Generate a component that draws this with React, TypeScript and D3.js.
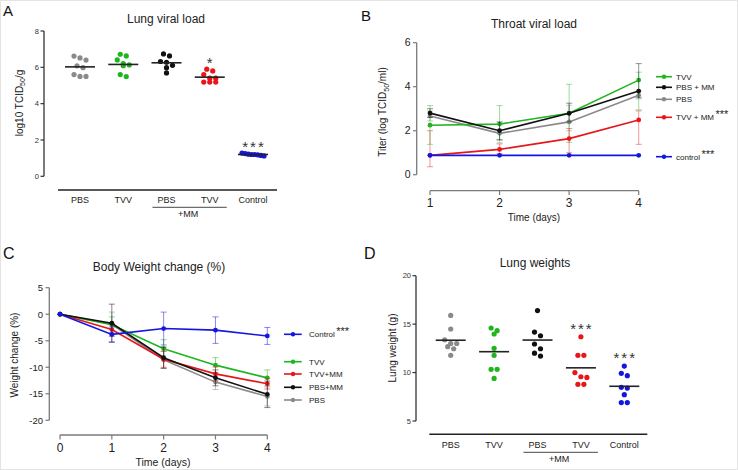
import React from "react";
import * as d3 from "d3";

// ---------- DATA ----------
const groupLabels = ["PBS", "TVV", "PBS", "TVV", "Control"];
const groupColors = ["#8a8a8a", "#1fb51f", "#111111", "#e8161b", "#1515e0"];

// Panel A: lung viral load (log10 TCID50/g)
const lungViral_PBS = [6.62, 6.52, 6.4, 6.08, 5.98, 5.6, 5.5, 5.5];
const lungViral_TVV = [6.72, 6.63, 6.41, 6.2, 6.13, 6.09, 5.6, 5.49];
const lungViral_PBSMM = [6.74, 6.63, 6.32, 6.28, 6.11, 5.98, 5.69];
const lungViral_TVVMM = [5.9, 5.8, 5.6, 5.4, 5.4, 5.19, 5.19, 5.19];
const lungViral_Control = [1.28, 1.25, 1.22, 1.2, 1.18, 1.15, 1.12, 1.2];
const lungViralSig = ["", "", "", "*", "***"];
const lungViralTicks = [0, 2, 4, 6, 8];

// Panel B: throat viral load
const throatDays = [1, 2, 3, 4];
const throatNames = ["TVV", "PBS + MM", "PBS", "TVV + MM", "control"];
const throatSig = ["", "", "", "***", "***"];
const throatColors = ["#1fb51f", "#111111", "#8a8a8a", "#e8161b", "#1515e0"];
const throat_TVV = [2.25, 2.3, 2.79, 4.3];
const throat_TVV_lo = [1.38, 1.55, 1.47, 2.95];
const throat_TVV_hi = [3.14, 3.14, 4.11, 4.66];
const throat_PBSMM = [2.8, 2.0, 2.79, 3.8];
const throat_PBSMM_lo = [2.6, 1.6, 2.4, 3.5];
const throat_PBSMM_hi = [3.0, 2.4, 3.25, 5.05];
const throat_PBS = [2.67, 1.88, 2.4, 3.61];
const throat_PBS_lo = [2.45, 1.45, 2.0, 3.45];
const throat_PBS_hi = [2.9, 2.3, 3.15, 3.8];
const throat_TVVMM = [0.88, 1.15, 1.64, 2.49];
const throat_TVVMM_lo = [0.36, 0.95, 1.0, 1.38];
const throat_TVVMM_hi = [2.0, 1.4, 2.1, 2.9];
const throat_control = [0.88, 0.88, 0.88, 0.88];
const throatYTicks = [0, 2, 4, 6];

// Panel C: body weight change
const weightDays = [0, 1, 2, 3, 4];
const weightNames = ["Control", "TVV", "TVV+MM", "PBS+MM", "PBS"];
const weightSig = ["***", "", "", "", ""];
const weightColors = ["#1515e0", "#1fb51f", "#e8161b", "#111111", "#8a8a8a"];
const weight_Control = [0, -3.8, -2.7, -3.0, -4.1];
const weight_Control_sd = [0, 1.4, 3.1, 2.5, 1.6];
const weight_TVV = [0, -2.0, -6.5, -9.6, -12.0];
const weight_TVV_sd = [0, 1.5, 1.7, 1.4, 1.5];
const weight_TVVMM = [0, -2.9, -8.5, -11.25, -13.1];
const weight_TVVMM_sd = [0, 1.2, 1.5, 1.3, 1.0];
const weight_PBSMM = [0, -1.7, -8.2, -12.0, -15.1];
const weight_PBSMM_sd = [0, 3.6, 2.0, 1.5, 2.5];
const weight_PBS = [0, -1.9, -8.6, -12.8, -15.5];
const weight_PBS_sd = [0, 2.3, 1.6, 1.4, 1.8];
const weightYTicks = [-20, -15, -10, -5, 0, 5];

// Panel D: lung weights (g)
const lungW_PBS = [15.9, 14.5, 13.39, 13.0, 13.0, 12.67, 12.46, 11.78];
const lungW_TVV = [14.6, 14.32, 13.98, 12.5, 11.78, 10.33, 10.33, 9.4];
const lungW_PBSMM = [16.4, 14.18, 13.8, 12.95, 12.46, 12.0, 11.7];
const lungW_TVVMM = [13.7, 11.78, 11.78, 10.0, 9.57, 9.5, 8.79, 8.79];
const lungW_Control = [10.67, 9.92, 9.68, 8.48, 8.4, 7.72, 6.9, 6.9];
const lungWSig = ["", "", "", "***", "***"];
const lungWTicks = [5, 10, 15, 20];

// ---------- LAYOUT ----------
const FONT = "'Liberation Sans', Arial, Helvetica, sans-serif";
const throatLegendY = [76.7, 87.3, 99.3, 117.3, 156.7];
const weightLegendY = [334.3, 361.7, 374, 387.3, 400];

function swarm(vals: number[], y: (v: number) => number, r = 2.6, d = 6, maxW = 22) {
  const idx = vals.map((_, i) => i).sort((a, b) => vals[b] - vals[a]);
  const rows: { y0: number; items: number[] }[] = [];
  let cur: { y0: number; items: number[] } | null = null;
  for (const i of idx) {
    const py = y(vals[i]);
    if (cur && Math.abs(py - cur.y0) < 2 * r) cur.items.push(i);
    else {
      cur = { y0: py, items: [i] };
      rows.push(cur);
    }
  }
  const off = new Array(vals.length).fill(0);
  rows.forEach((row) => {
    const n = row.items.length;
    const dd = n > 1 ? Math.min(d, maxW / (n - 1)) : 0;
    row.items.forEach((i, k) => (off[i] = (k - (n - 1) / 2) * dd));
  });
  return off;
}

function ScatterPanel(props: {
  groups: number[][];
  sig: string[];
  ticks: number[];
  y: d3.ScaleLinear<number, number>;
  x: d3.ScalePoint<string>;
  axisX: number;
  axisColor: string;
  baseY: number;
  baseX0: number;
  baseX1: number;
  labelY: number;
  mmLineY: number;
  mmTextY: number;
  sigOffset: number;
}) {
  const { groups, sig, ticks, y, x, axisX, axisColor } = props;
  const [y0, y1] = y.range();
  return (
    <g>
      <line x1={axisX} x2={axisX} y1={y1} y2={y0} stroke={axisColor} strokeWidth={1.3} />
      {ticks.map((t) => (
        <g key={t}>
          <line x1={axisX - 3.5} x2={axisX} y1={y(t)} y2={y(t)} stroke={axisColor} strokeWidth={1.2} />
          <text x={axisX - 5} y={y(t) + 2.7} fontSize={7.5} textAnchor="end" fill="#333" fontFamily={FONT}>
            {t}
          </text>
        </g>
      ))}
      <line x1={props.baseX0} x2={props.baseX1} y1={props.baseY} y2={props.baseY} stroke="#222" strokeWidth={1.6} />
      {groupLabels.map((g, i) => (
        <text key={i} x={x(String(i))!} y={props.labelY} fontSize={9} textAnchor="middle" fill="#222" fontFamily={FONT}>
          {g}
        </text>
      ))}
      <line
        x1={x("2")! - 14}
        x2={x("3")! + 17}
        y1={props.mmLineY}
        y2={props.mmLineY}
        stroke="#333"
        strokeWidth={0.9}
      />
      <text
        x={(x("2")! + x("3")!) / 2}
        y={props.mmTextY}
        fontSize={9}
        textAnchor="middle"
        fill="#222"
        fontFamily={FONT}
      >
        +MM
      </text>
      {groups.map((vals, gi) => {
        const cx = x(String(gi))!;
        const off = swarm(vals, y);
        const m = d3.mean(vals)!;
        const top = y(d3.max(vals)!);
        return (
          <g key={gi}>
            {vals.map((v, k) => (
              <circle key={k} cx={cx + off[k]} cy={y(v)} r={2.6} fill={groupColors[gi]} />
            ))}
            <line x1={cx - 15} x2={cx + 15} y1={y(m)} y2={y(m)} stroke="#222" strokeWidth={1.6} />
            {sig[gi] && (
              <text
                x={cx + (sig[gi].length > 1 ? 1 : 0)}
                y={top - props.sigOffset}
                fontSize={15}
                textAnchor="middle"
                fill="#333"
                letterSpacing={sig[gi].length > 1 ? 2 : 0}
                fontFamily={FONT}
              >
                {sig[gi]}
              </text>
            )}
          </g>
        );
      })}
    </g>
  );
}

export default function App() {
  // ---- Panel A ----
  const yA = d3.scaleLinear().domain([0, 8]).range([176.3, 31]);
  const xA = d3.scalePoint<string>().domain(["0", "1", "2", "3", "4"]).range([80, 253]);
  const groupsA = [lungViral_PBS, lungViral_TVV, lungViral_PBSMM, lungViral_TVVMM, lungViral_Control];

  // ---- Panel D ----
  const yD = d3.scaleLinear().domain([5, 20]).range([421, 275.7]);
  const xD = d3.scalePoint<string>().domain(["0", "1", "2", "3", "4"]).range([450.7, 624.3]);
  const groupsD = [lungW_PBS, lungW_TVV, lungW_PBSMM, lungW_TVVMM, lungW_Control];

  // ---- Panel B ----
  const xB = d3.scaleLinear().domain([1, 4]).range([430, 638.7]);
  const yB = d3.scaleLinear().domain([0, 6]).range([174.7, 42.7]);
  const throatSeries = [
    { v: throat_TVV, lo: throat_TVV_lo, hi: throat_TVV_hi },
    { v: throat_PBSMM, lo: throat_PBSMM_lo, hi: throat_PBSMM_hi },
    { v: throat_PBS, lo: throat_PBS_lo, hi: throat_PBS_hi },
    { v: throat_TVVMM, lo: throat_TVVMM_lo, hi: throat_TVVMM_hi },
    { v: throat_control, lo: throat_control, hi: throat_control },
  ];
  const throatDrawOrder = [2, 0, 1, 3, 4];
  const lineB = d3
    .line<number>()
    .x((_, i) => xB(throatDays[i]))
    .y((d) => yB(d));

  // ---- Panel C ----
  const xC = d3.scaleLinear().domain([0, 4]).range([60, 267.3]);
  const yC = d3.scaleLinear().domain([-20, 5]).range([420.3, 287.7]);
  const weightSeries = [
    { v: weight_Control, sd: weight_Control_sd },
    { v: weight_TVV, sd: weight_TVV_sd },
    { v: weight_TVVMM, sd: weight_TVVMM_sd },
    { v: weight_PBSMM, sd: weight_PBSMM_sd },
    { v: weight_PBS, sd: weight_PBS_sd },
  ];
  const weightDrawOrder = [4, 1, 2, 3, 0];
  const lineC = d3
    .line<number>()
    .x((_, i) => xC(weightDays[i]))
    .y((d) => yC(d));

  const grayAxis = "#7a7a7a";

  return (
    <svg
      width={738}
      height={470}
      style={{ position: "absolute", left: 0, top: 0, background: "#fff" }}
      fontFamily={FONT}
    >
      <rect x={0.5} y={0.5} width={737} height={469} fill="#fff" stroke="#e4e4e4" />

      {/* Panel letters */}
      <text x={3} y={16} fontSize={15} fill="#111">A</text>
      <text x={361} y={21} fontSize={15} fill="#111">B</text>
      <text x={3} y={259} fontSize={16} fill="#111">C</text>
      <text x={364} y={259} fontSize={16} fill="#111">D</text>

      {/* ===== Panel A ===== */}
      <text x={166} y={23.3} fontSize={12} textAnchor="middle" fill="#222">
        Lung viral load
      </text>
      <text transform="translate(22.5,103) rotate(-90)" fontSize={10} textAnchor="middle" fill="#222">
        log10 TCID
        <tspan fontSize={7} dy={2.5}>50</tspan>
        <tspan dy={-2.5}>/g</tspan>
      </text>
      <ScatterPanel
        groups={groupsA}
        sig={lungViralSig}
        ticks={lungViralTicks}
        y={yA}
        x={xA}
        axisX={44}
        axisColor="#333"
        baseY={190}
        baseX0={58}
        baseX1={277}
        labelY={203.3}
        mmLineY={207.3}
        mmTextY={216.5}
        sigOffset={1}
      />

      {/* ===== Panel D ===== */}
      <text x={535} y={266.7} fontSize={12} textAnchor="middle" fill="#222">
        Lung weights
      </text>
      <text transform="translate(396,348) rotate(-90)" fontSize={10} textAnchor="middle" fill="#222">
        Lung weight (g)
      </text>
      <ScatterPanel
        groups={groupsD}
        sig={lungWSig}
        ticks={lungWTicks}
        y={yD}
        x={xD}
        axisX={416}
        axisColor="#333"
        baseY={434.3}
        baseX0={429.3}
        baseX1={647.3}
        labelY={447.7}
        mmLineY={452.3}
        mmTextY={461.5}
        sigOffset={3}
      />

      {/* ===== Panel B ===== */}
      <text x={534} y={28.3} fontSize={12} textAnchor="middle" fill="#222">
        Throat viral load
      </text>
      <text transform="translate(386,112) rotate(-90)" fontSize={10} textAnchor="middle" fill="#222">
        Titer (log TCID
        <tspan fontSize={7} dy={2.5}>50</tspan>
        <tspan dy={-2.5}>/ml)</tspan>
      </text>
      <line x1={416.7} x2={416.7} y1={yB(6)} y2={yB(0)} stroke={grayAxis} strokeWidth={1.3} />
      {throatYTicks.map((t) => (
        <g key={t}>
          <line x1={413} x2={416.7} y1={yB(t)} y2={yB(t)} stroke={grayAxis} strokeWidth={1.2} />
          <text x={410.5} y={yB(t) + 3.6} fontSize={10.5} textAnchor="end" fill="#222">
            {t}
          </text>
        </g>
      ))}
      <line x1={xB(1)} x2={xB(4)} y1={190.7} y2={190.7} stroke={grayAxis} strokeWidth={1.3} />
      {throatDays.map((t) => (
        <g key={t}>
          <line x1={xB(t)} x2={xB(t)} y1={190.7} y2={195} stroke={grayAxis} strokeWidth={1.2} />
          <text x={xB(t)} y={206.7} fontSize={12} textAnchor="middle" fill="#222">
            {t}
          </text>
        </g>
      ))}
      <text x={534} y={220.5} fontSize={10} textAnchor="middle" fill="#222">
        Time (days)
      </text>
      {throatDrawOrder.map((si) => {
        const s = throatSeries[si];
        const c = throatColors[si];
        return (
          <g key={si}>
            {s.v.map((_, i) =>
              s.hi[i] !== s.lo[i] ? (
                <g key={i} stroke={c} strokeOpacity={0.45} strokeWidth={1}>
                  <line x1={xB(throatDays[i])} x2={xB(throatDays[i])} y1={yB(s.lo[i])} y2={yB(s.hi[i])} />
                  <line x1={xB(throatDays[i]) - 3} x2={xB(throatDays[i]) + 3} y1={yB(s.lo[i])} y2={yB(s.lo[i])} />
                  <line x1={xB(throatDays[i]) - 3} x2={xB(throatDays[i]) + 3} y1={yB(s.hi[i])} y2={yB(s.hi[i])} />
                </g>
              ) : null
            )}
            <path d={lineB(s.v)!} fill="none" stroke={c} strokeWidth={1.6} />
            {s.v.map((v, i) => (
              <circle key={i} cx={xB(throatDays[i])} cy={yB(v)} r={2.4} fill={c} />
            ))}
          </g>
        );
      })}
      {throatNames.map((n, i) => (
        <g key={n}>
          <line x1={656} x2={672} y1={throatLegendY[i]} y2={throatLegendY[i]} stroke={throatColors[i]} strokeWidth={1.6} />
          <circle cx={664} cy={throatLegendY[i]} r={2.2} fill={throatColors[i]} />
          <text x={676} y={throatLegendY[i] + 2.8} fontSize={8} fill="#222">
            {n}
            {throatSig[i] && (
              <tspan dx={1.5} dy={-2} fontSize={11}>
                {throatSig[i]}
              </tspan>
            )}
          </text>
        </g>
      ))}

      {/* ===== Panel C ===== */}
      <text x={159} y={271} fontSize={12} textAnchor="middle" fill="#222">
        Body Weight change (%)
      </text>
      <text transform="translate(18,355) rotate(-90)" fontSize={10} textAnchor="middle" fill="#222">
        Weight change  (%)
      </text>
      <line x1={49.3} x2={49.3} y1={yC(5)} y2={yC(-20)} stroke={grayAxis} strokeWidth={1.3} />
      {weightYTicks.map((t) => (
        <g key={t}>
          <line x1={45.5} x2={49.3} y1={yC(t)} y2={yC(t)} stroke={grayAxis} strokeWidth={1.2} />
          <text x={43} y={yC(t) + 3.3} fontSize={9.5} textAnchor="end" fill="#222">
            {t}
          </text>
        </g>
      ))}
      <line x1={xC(0)} x2={xC(4)} y1={435} y2={435} stroke={grayAxis} strokeWidth={1.3} />
      {weightDays.map((t) => (
        <g key={t}>
          <line x1={xC(t)} x2={xC(t)} y1={435} y2={439.5} stroke={grayAxis} strokeWidth={1.2} />
          <text x={xC(t)} y={452.3} fontSize={12} textAnchor="middle" fill="#222">
            {t}
          </text>
        </g>
      ))}
      <text x={163} y={466} fontSize={10.5} textAnchor="middle" fill="#222">
        Time (days)
      </text>
      {weightDrawOrder.map((si) => {
        const s = weightSeries[si];
        const c = weightColors[si];
        return (
          <g key={si}>
            {s.v.map((v, i) =>
              s.sd[i] > 0 ? (
                <g key={i} stroke={c} strokeOpacity={0.5} strokeWidth={1}>
                  <line x1={xC(weightDays[i])} x2={xC(weightDays[i])} y1={yC(v - s.sd[i])} y2={yC(v + s.sd[i])} />
                  <line x1={xC(weightDays[i]) - 3} x2={xC(weightDays[i]) + 3} y1={yC(v - s.sd[i])} y2={yC(v - s.sd[i])} />
                  <line x1={xC(weightDays[i]) - 3} x2={xC(weightDays[i]) + 3} y1={yC(v + s.sd[i])} y2={yC(v + s.sd[i])} />
                </g>
              ) : null
            )}
            <path d={lineC(s.v)!} fill="none" stroke={c} strokeWidth={1.6} />
            {s.v.map((v, i) => (
              <circle key={i} cx={xC(weightDays[i])} cy={yC(v)} r={2.4} fill={c} />
            ))}
          </g>
        );
      })}
      {weightNames.map((n, i) => (
        <g key={n}>
          <line x1={284} x2={301.7} y1={weightLegendY[i]} y2={weightLegendY[i]} stroke={weightColors[i]} strokeWidth={1.6} />
          <circle cx={293} cy={weightLegendY[i]} r={2.2} fill={weightColors[i]} />
          <text x={309} y={weightLegendY[i] + 2.8} fontSize={8} fill="#222">
            {n}
            {weightSig[i] && (
              <tspan dx={1.5} dy={-2} fontSize={11}>
                {weightSig[i]}
              </tspan>
            )}
          </text>
        </g>
      ))}
    </svg>
  );
}
